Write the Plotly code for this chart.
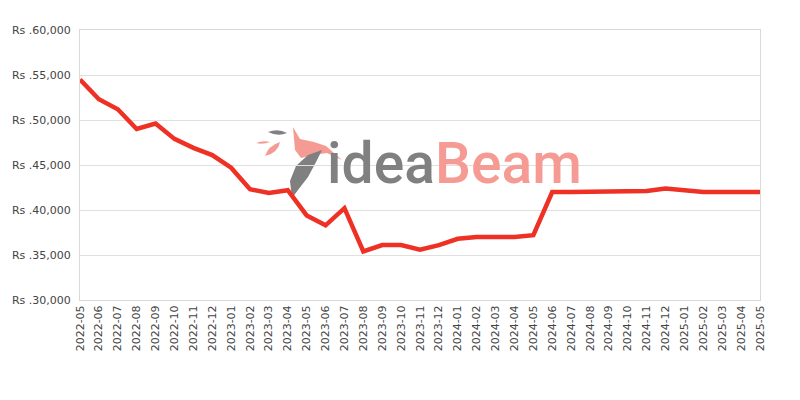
import plotly.graph_objects as go

# monthly price history
months = [
    "2022-05", "2022-06", "2022-07", "2022-08", "2022-09", "2022-10", "2022-11", "2022-12",
    "2023-01", "2023-02", "2023-03", "2023-04", "2023-05", "2023-06", "2023-07", "2023-08",
    "2023-09", "2023-10", "2023-11", "2023-12", "2024-01", "2024-02", "2024-03", "2024-04",
    "2024-05", "2024-06", "2024-07", "2024-08", "2024-09", "2024-10", "2024-11", "2024-12",
    "2025-01", "2025-02", "2025-03", "2025-04", "2025-05",
]
prices = [
    54500, 52300, 51200, 49000, 49600, 47900, 46900, 46100,
    44700, 42300, 41900, 42200, 39400, 38300, 40200, 35400,
    36100, 36100, 35600, 36100, 36800, 37000, 37000, 37000,
    37200, 42000, 42000, 42000, 42000, 42000, 42100, 42400,
    42200, 42000, 42000, 42000, 42000,
]
y_ticks = [30000, 35000, 40000, 45000, 50000, 55000, 60000]
y_labels = ["Rs .{:,}".format(v) for v in y_ticks]

font_family = "DejaVu Sans"
grid = "#e0e0e0"
salmon = "#f59b93"
logo_gray = "#808080"

# plot box in page pixels (page body has an 8px margin)
L, R, T, B = 80, 760, 30, 300
BODY = 8


def px(x, y):
    return "{:.4f},{:.4f}".format((x - L) / (R - L), (B - y) / (B - T))


def logo_path(cmds):
    out = []
    for c in cmds:
        if isinstance(c, str):
            out.append(c)
        else:
            out.append(px(*c))
    return " ".join(out)


def poly(points):
    cmds = ["M", points[0]]
    for p in points[1:]:
        cmds += ["L", p]
    return cmds + ["Z"]


fig = go.Figure()
fig.add_trace(go.Scatter(
    x=months, y=prices,
    mode="lines",
    line=dict(color="#ee3124", width=4.5),
    hoverinfo="x+y",
))

# watermark: rough bird + feather icon
icon = [
    (salmon, poly([(293, 127), (300, 139), (314, 142), (326, 146), (342, 160),
                   (327, 153), (313, 155), (301, 158), (295, 150)])),
    (logo_gray, poly([(292, 198), (290, 181), (296, 166), (308, 155), (322, 150),
                      (316, 162), (308, 177), (298, 190)])),
    (logo_gray, ["M", (268, 132), "Q", (278, 128), (287, 133), "Q", (278, 137), (268, 132), "Z"]),
    (salmon, ["M", (256, 143), "Q", (263, 140), (270, 142), "Q", (263, 145), (256, 143), "Z"]),
    (salmon, ["M", (265, 156), "Q", (268, 146), (280, 142), "Q", (278, 153), (265, 156), "Z"]),
]
for color, cmds in icon:
    fig.add_shape(
        type="path", xref="paper", yref="paper",
        path=logo_path(cmds),
        fillcolor=color, line=dict(width=0),
        layer="below",
    )

# watermark text
fig.add_annotation(
    x=0.5, y=0.507, xref="paper", yref="paper",
    xanchor="center", yanchor="middle",
    text="<span style='color:%s'>idea</span><span style='color:%s'>Beam</span>" % (logo_gray, salmon),
    showarrow=False,
    font=dict(family="Roboto", size=57, weight=500),
    xshift=34,
)

fig.update_layout(
    width=800, height=400,
    margin=dict(l=L - BODY, r=800 + BODY - R, t=T - BODY, b=400 + BODY - B),
    paper_bgcolor="white",
    plot_bgcolor="white",
    showlegend=False,
    font=dict(family=font_family, size=11, color="#444"),
    xaxis=dict(
        type="category",
        range=[0, len(months) - 1],
        tickangle=-90,
        showgrid=False,
        showline=True, linecolor="#d9d9d9", linewidth=1, mirror=True,
        ticks="",
        automargin=False,
        tickfont=dict(size=11, color="#444"),
    ),
    yaxis=dict(
        range=[30000, 60000],
        tickmode="array",
        tickvals=y_ticks,
        ticktext=y_labels,
        showgrid=True, gridcolor=grid, gridwidth=1,
        showline=True, linecolor="#d9d9d9", linewidth=1, mirror=True,
        zeroline=False,
        ticks="outside", ticklen=6, tickcolor="rgba(0,0,0,0)",
        automargin=False,
        tickfont=dict(size=11, color="#444"),
    ),
)

fig.write_html("out.html")
